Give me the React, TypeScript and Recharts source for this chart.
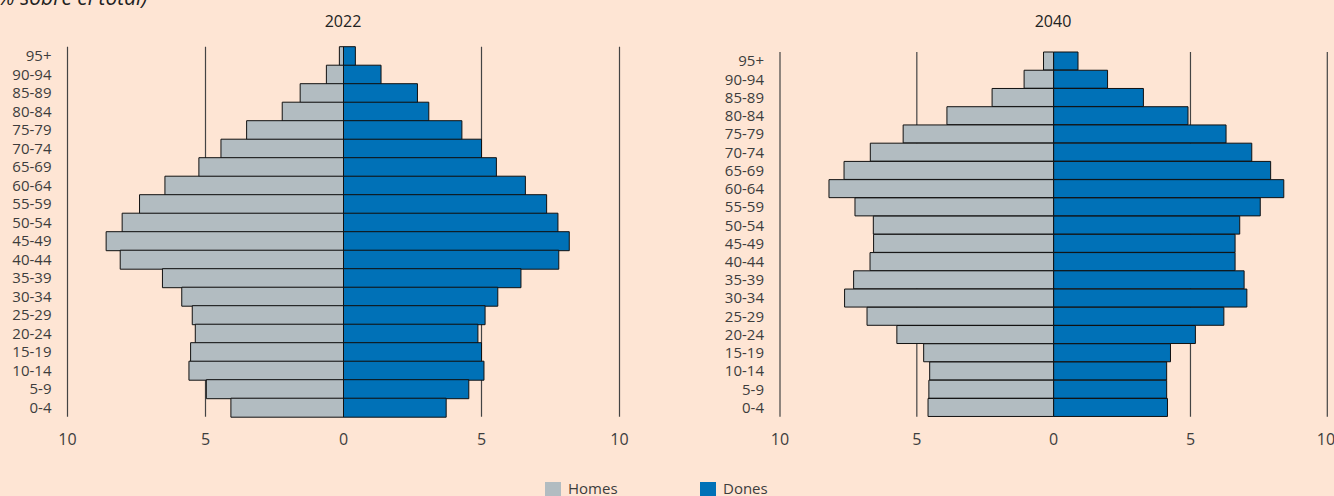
import { BarChart, Bar, XAxis, YAxis, CartesianGrid } from 'recharts';

const ageGroups = ['95+', '90-94', '85-89', '80-84', '75-79', '70-74', '65-69', '60-64', '55-59', '50-54', '45-49', '40-44', '35-39', '30-34', '25-29', '20-24', '15-19', '10-14', '5-9', '0-4'];

const homes2022 = [0.15, 0.62, 1.57, 2.22, 3.51, 4.44, 5.24, 6.47, 7.39, 8.02, 8.6, 8.09, 6.56, 5.86, 5.48, 5.37, 5.54, 5.6, 4.97, 4.08];
const dones2022 = [0.43, 1.36, 2.68, 3.09, 4.29, 5.0, 5.54, 6.59, 7.36, 7.77, 8.18, 7.8, 6.43, 5.59, 5.13, 4.87, 5.0, 5.09, 4.54, 3.72];

const homes2040 = [0.37, 1.08, 2.25, 3.9, 5.5, 6.7, 7.66, 8.21, 7.26, 6.59, 6.58, 6.71, 7.31, 7.64, 6.82, 5.73, 4.75, 4.53, 4.56, 4.59];
const dones2040 = [0.89, 1.97, 3.28, 4.91, 6.3, 7.24, 7.93, 8.41, 7.55, 6.8, 6.63, 6.63, 6.96, 7.06, 6.22, 5.18, 4.27, 4.13, 4.13, 4.16];

const xTicks = [-10, -5, 0, 5, 10];

const BG = '#fee5d4';
const GRAY = '#b2bcc1';
const BLUE = '#0071b7';
const TEXT = '#3d3d3d';
const FONT = '"Open Sans", "Noto Sans", sans-serif';

function build(homes: number[], dones: number[]) {
  return ageGroups.map((age, i) => ({ age, homes: -homes[i], dones: dones[i] }));
}

interface PyramidProps {
  homes: number[];
  dones: number[];
  width: number;
  margin: { top: number; right: number; bottom: number; left: number };
  yWidth: number;
}

function Pyramid({ homes, dones, width, margin, yWidth }: PyramidProps) {
  return (
    <BarChart
      width={width}
      height={496}
      data={build(homes, dones)}
      layout="vertical"
      stackOffset="sign"
      barCategoryGap={0}
      margin={margin}
      style={{ overflow: 'visible' }}
    >
      <CartesianGrid horizontal={false} vertical stroke="#444" strokeWidth={1.2} />
      <XAxis
        type="number"
        domain={[-10, 10]}
        ticks={xTicks}
        axisLine={false}
        tickLine={false}
        tickMargin={11}
        tickFormatter={(v: number) => String(Math.abs(v))}
        tick={{ fill: TEXT, fontSize: 16, fontFamily: FONT }}
        allowDataOverflow
      />
      <YAxis
        type="category"
        dataKey="age"
        width={yWidth}
        axisLine={false}
        tickLine={false}
        tickMargin={10}
        interval={0}
        tick={{ fill: TEXT, fontSize: 15, fontFamily: FONT }}
      />
      <Bar dataKey="homes" stackId="p" fill={GRAY} stroke="#111" strokeWidth={1} isAnimationActive={false} />
      <Bar dataKey="dones" stackId="p" fill={BLUE} stroke="#111" strokeWidth={1} isAnimationActive={false} />
    </BarChart>
  );
}

export default function App() {
  return (
    <div
      style={{
        position: 'fixed',
        left: 0,
        top: 0,
        width: 1334,
        height: 496,
        background: BG,
        overflow: 'hidden',
        fontFamily: FONT,
      }}
    >
      <div style={{ position: 'absolute', left: -8, top: -17, fontSize: 21, fontStyle: 'italic', color: '#222', whiteSpace: 'nowrap' }}>
        (% sobre el total)
      </div>
      <div style={{ position: 'absolute', left: 0, top: 0 }}>
        <Pyramid
          homes={homes2022}
          dones={dones2022}
          width={660}
          yWidth={60.5}
          margin={{ top: 46.7, right: 40.5, bottom: 49.3, left: 7 }}
        />
      </div>
      <div style={{ position: 'absolute', left: 700, top: 0 }}>
        <Pyramid
          homes={homes2040}
          dones={dones2040}
          width={634}
          yWidth={72}
          margin={{ top: 52, right: 6.7, bottom: 49.3, left: 8 }}
        />
      </div>
      <div style={{ position: 'absolute', left: 293, width: 100, top: 10, textAlign: 'center', fontSize: 16, color: '#222' }}>
        2022
      </div>
      <div style={{ position: 'absolute', left: 1003, width: 100, top: 10, textAlign: 'center', fontSize: 16, color: '#222' }}>
        2040
      </div>
      <div style={{ position: 'absolute', left: 545, top: 482, width: 16, height: 16, background: GRAY }} />
      <div style={{ position: 'absolute', left: 568, top: 478, fontSize: 15, color: TEXT }}>Homes</div>
      <div style={{ position: 'absolute', left: 700, top: 482, width: 16, height: 16, background: BLUE }} />
      <div style={{ position: 'absolute', left: 723, top: 478, fontSize: 15, color: TEXT }}>Dones</div>
    </div>
  );
}
